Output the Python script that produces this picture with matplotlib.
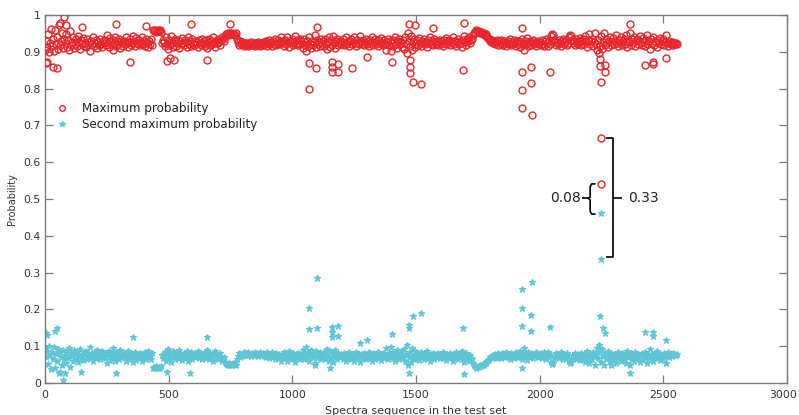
import numpy as np
import matplotlib
matplotlib.use("Agg")
import matplotlib.pyplot as plt
import matplotlib.transforms as mtransforms

# ---- data ----
band_step = 4  # sequence spacing of the band samples
red_band = [
905,930,912,948,899,925,962,915,934,901,958,921,940,907,972,918,929,952,911,936,
924,947,913,931,905,956,919,927,940,909,922,935,917,944,926,908,931,921,938,915,
923,912,934,918,926,903,929,920,941,915,924,932,910,927,919,936,922,913,930,925,
933,918,945,924,912,938,927,919,905,931,923,940,915,928,921,936,911,929,924,917,
930,922,940,927,914,926,935,919,924,944,929,916,938,925,921,933,918,927,940,922,
929,917,935,924,913,928,921,936,918,958,956,959,955,957,960,956,958,954,924,931,
927,915,939,922,907,931,918,942,925,912,929,936,917,924,933,911,928,920,938,923,
919,932,926,913,940,922,929,916,935,924,918,930,921,927,914,933,925,919,936,923,
928,916,931,922,909,926,934,918,929,921,939,925,914,930,923,936,927,919,932,941,
935,928,944,947,949,951,946,950,948,952,947,949,945,950,934,926,919,930,922,927,
921,917,925,919,923,916,922,920,926,918,921,924,917,923,919,927,920,916,922,925,
919,926,921,930,917,924,933,920,927,915,929,922,936,918,925,931,920,927,939,923,
928,917,932,921,940,926,914,930,923,936,919,927,942,922,931,918,925,934,920,929,
924,911,935,919,903,928,916,941,922,909,930,918,926,945,913,932,921,927,915,934,
923,929,917,935,921,908,926,940,913,931,919,944,924,911,928,936,918,925,930,921,
927,934,919,925,941,922,930,916,928,935,920,926,939,923,917,931,925,920,943,928,
922,933,918,927,936,921,929,917,932,924,940,919,926,934,921,928,915,931,923,937,
925,918,931,922,905,927,935,919,928,903,924,932,917,926,940,921,911,929,935,920,
927,914,933,908,941,922,896,952,930,915,943,905,927,936,912,925,931,919,938,924,
917,929,923,936,920,927,914,932,925,940,921,928,918,934,926,922,930,919,927,933,
922,928,916,931,924,937,920,926,933,918,929,925,941,922,930,917,927,935,921,929,
924,913,931,942,926,919,934,928,940,923,931,936,945,950,955,958,957,954,956,952,
953,950,948,951,946,944,947,941,938,935,930,927,933,924,929,921,926,931,919,928,
925,932,918,927,922,930,916,924,929,921,935,918,926,920,931,924,917,928,922,930,
912,925,935,919,904,928,921,937,916,924,929,918,926,933,920,927,915,924,930,921,
926,918,932,922,915,929,936,924,917,930,921,942,948,945,933,926,919,927,922,931,
924,917,928,935,920,926,931,918,925,940,946,944,933,923,928,919,934,926,921,930,
925,938,918,929,934,921,943,926,912,931,947,920,928,936,915,927,951,922,906,933,
896,915,944,908,927,950,919,935,924,912,930,941,918,926,937,920,929,945,923,916,
932,925,940,918,928,935,921,946,913,930,926,952,919,934,927,940,917,929,936,922,
930,944,924,918,937,927,915,932,946,921,928,908,935,924,941,919,930,926,912,933,
925,938,920,929,934,919,927,946,923,915,930,924,920,926,922,918,925,921,923,920,
]
cyan_band = [
95,70,88,52,101,75,38,85,66,99,42,79,60,93,28,82,71,48,89,64,
76,53,87,69,95,44,81,73,60,91,78,65,83,56,74,92,69,79,62,85,
77,88,66,82,74,97,71,80,59,85,76,68,90,73,81,64,78,87,70,75,
67,82,55,76,88,62,73,81,95,69,77,60,85,72,79,64,89,71,76,83,
70,78,60,73,86,74,65,81,76,56,71,84,62,75,79,67,82,73,60,78,
71,83,65,76,87,72,79,64,82,42,44,41,45,43,40,44,42,46,76,69,
73,85,61,78,93,69,82,58,75,88,71,64,83,76,67,89,72,80,62,77,
81,68,74,87,60,78,71,84,65,76,82,70,79,73,86,67,75,81,64,77,
72,84,69,78,91,74,66,82,71,79,61,75,86,70,77,64,73,81,68,59,
65,72,56,53,51,49,54,50,52,48,53,51,55,50,66,74,81,70,78,73,
79,83,75,81,77,84,78,80,74,82,79,76,83,77,81,73,80,84,78,75,
81,74,79,70,83,76,67,80,73,85,71,78,64,82,75,69,80,73,61,77,
72,83,68,79,60,74,86,70,77,64,81,73,58,78,69,82,75,66,80,71,
76,89,65,81,97,72,84,59,78,91,70,82,74,55,87,68,79,73,85,66,
77,71,83,65,79,92,74,60,87,69,81,56,76,89,72,64,82,75,70,79,
73,66,81,75,59,78,70,84,72,65,80,74,61,77,83,69,75,80,57,72,
78,67,82,73,64,79,71,83,68,76,60,81,74,66,79,72,85,69,77,63,
75,82,69,78,95,73,65,81,72,97,76,68,83,74,60,79,89,71,65,80,
73,86,67,92,59,78,104,48,70,85,57,95,73,64,88,75,69,81,62,76,
83,71,77,64,80,73,86,68,75,60,79,72,82,66,74,78,70,81,73,67,
78,72,84,69,76,63,80,74,67,82,71,75,59,78,70,83,73,65,79,71,
76,87,69,58,74,81,66,72,60,77,69,64,55,50,45,42,43,46,44,48,
47,50,52,49,54,56,53,59,62,65,70,73,67,76,71,79,74,69,81,72,
75,68,82,73,78,70,84,76,71,79,65,82,74,80,69,76,83,72,78,70,
88,75,65,81,96,72,79,63,84,76,71,82,74,67,80,73,85,76,70,79,
74,82,68,78,85,71,64,76,83,70,79,58,52,55,67,74,81,73,78,69,
76,83,72,65,80,74,69,82,75,60,54,56,67,77,72,81,66,74,79,70,
75,62,82,71,66,79,57,74,88,69,53,80,72,64,85,73,49,78,94,67,
104,85,56,92,73,50,81,65,76,88,70,59,82,74,63,80,71,55,77,84,
68,75,60,82,72,65,79,54,87,70,74,48,81,66,73,60,83,71,64,78,
70,56,76,82,63,73,85,68,54,79,72,92,65,76,59,81,70,74,88,67,
75,62,80,71,66,81,73,54,77,85,70,76,80,74,78,82,75,79,77,80,
]
red_out_x = [4, 8, 33, 49, 61, 77, 85, 150, 287, 344, 408, 495, 505, 520, 590, 655,
             748, 1068, 1068, 1096, 1100, 1160, 1160, 1160, 1185, 1185, 1241, 1300,
             1403, 1472, 1474, 1475, 1476, 1488, 1496, 1520, 1569, 1690, 1694, 1929,
             1929, 1929, 1929, 1965, 1965, 1969, 2042, 2244, 2244, 2248, 2248, 2248,
             2265, 2265, 2366, 2426, 2458, 2458, 2511]
red_out_y = [0.869, 0.871, 0.860, 0.856, 0.978, 0.995, 0.973, 0.967, 0.975, 0.873,
             0.970, 0.875, 0.883, 0.878, 0.975, 0.878, 0.975, 0.869, 0.799, 0.856,
             0.967, 0.872, 0.859, 0.845, 0.866, 0.845, 0.856, 0.886, 0.872, 0.975,
             0.878, 0.859, 0.842, 0.818, 0.973, 0.812, 0.965, 0.851, 0.978, 0.965,
             0.845, 0.796, 0.747, 0.859, 0.815, 0.728, 0.845, 0.862, 0.880, 0.818,
             0.666, 0.541, 0.865, 0.845, 0.975, 0.864, 0.866, 0.872, 0.883]
cyan_out_x = [4, 8, 49, 40, 60, 73, 81, 146, 287, 356, 493, 586, 655, 1068, 1068,
              1100, 1100, 1090, 1152, 1160, 1160, 1160, 1185, 1185, 1274, 1302, 1403,
              1472, 1472, 1472, 1488, 1520, 1690, 1694, 1929, 1929, 1929, 1929, 1965,
              1965, 1969, 2042, 2244, 2248, 2248, 2258, 2265, 2288, 2366, 2426, 2458,
              2458, 2511]
cyan_out_y = [0.135, 0.130, 0.149, 0.140, 0.030, 0.008, 0.027, 0.030, 0.027, 0.125,
              0.030, 0.027, 0.125, 0.204, 0.146, 0.285, 0.150, 0.050, 0.040, 0.152,
              0.139, 0.125, 0.154, 0.128, 0.110, 0.117, 0.133, 0.027, 0.158, 0.150,
              0.182, 0.190, 0.149, 0.024, 0.255, 0.204, 0.155, 0.040, 0.185, 0.141,
              0.274, 0.152, 0.182, 0.462, 0.337, 0.150, 0.135, 0.050, 0.027, 0.139,
              0.138, 0.128, 0.117]
x_ticks = [0, 500, 1000, 1500, 2000, 2500, 3000]
y_ticks = [0, 0.1, 0.2, 0.3, 0.4, 0.5, 0.6, 0.7, 0.8, 0.9, 1]
y_ticklabels = ["0", "0.1", "0.2", "0.3", "0.4", "0.5", "0.6", "0.7", "0.8", "0.9", "1"]
gap_small, gap_big = "0.08", "0.33"
ann_x = 2248
ann_small = (0.541, 0.462)
ann_big = (0.666, 0.337)

# ---- assemble series ----
band_x = 1 + band_step * np.arange(len(red_band))
red_x = np.concatenate([band_x, red_out_x])
red_y = np.concatenate([np.array(red_band) / 1000.0, red_out_y])
cyan_x = np.concatenate([band_x, cyan_out_x])
cyan_y = np.concatenate([np.array(cyan_band) / 1000.0, cyan_out_y])

RED = "#e8262b"
CYAN = "#5ec5d8"
GREY = "#7a7a7a"
TXT = "#333333"

fig = plt.figure(figsize=(7.99, 4.15), dpi=100)
ax = fig.add_axes([0.0563, 0.0771, 0.9287, 0.8868])

ax.plot(red_x, red_y, linestyle="none", marker="o", markersize=5.0,
        markerfacecolor="none", markeredgecolor=RED, markeredgewidth=1.0,
        label="Maximum probability", zorder=3)
ax.plot(cyan_x, cyan_y, linestyle="none", marker="*", markersize=5.0,
        color=CYAN, markeredgewidth=0.9, label="Second maximum probability", zorder=2)

ax.set_xlim(0, 3000)
ax.set_ylim(0, 1)
ax.set_xticks(x_ticks)
ax.set_yticks(y_ticks)
ax.set_yticklabels(y_ticklabels)
ax.tick_params(direction="in", length=6, width=0.9, color=GREY, labelsize=7.8,
               labelcolor=TXT, top=True, right=True)
ax.tick_params(axis="x", pad=5)
ax.tick_params(axis="y", pad=3)
for s in ax.spines.values():
    s.set_color(GREY)
    s.set_linewidth(1.0)

# keep the last x tick label inside the figure
fig.canvas.draw()
last = ax.get_xticklabels()[-1]
last.set_transform(last.get_transform() +
                   mtransforms.ScaledTranslation(-3 / 72, 0, fig.dpi_scale_trans))

ax.set_ylabel("Probability", fontsize=7, color=TXT, labelpad=5)
ax.set_xlabel("Spectra sequence in the test set", fontsize=8, color=TXT, labelpad=4.5)

leg = ax.legend(loc="upper left", bbox_to_anchor=(0.0, 0.785), frameon=False,
                fontsize=8.6, handletextpad=0.9, labelspacing=0.25, markerscale=0.8,
                handlelength=1.5, borderaxespad=0.3)
for t in leg.get_texts():
    t.set_color("#222222")

# ---- brackets ----
k = dict(color="black", lw=1.2, solid_capstyle="butt", zorder=4)
bx = ann_x + 49
ax.plot([bx - 29, bx, bx, bx - 29], [ann_big[0], ann_big[0], ann_big[1] + 0.005, ann_big[1] + 0.005], **k)
mid_big = (ann_big[0] + ann_big[1]) / 2
ax.plot([bx, bx + 36], [mid_big, mid_big], **k)
ax.text(bx + 60, mid_big, gap_big, fontsize=10, ha="left", va="center", color="#222222")

sx = ann_x - 44
top_s, bot_s = ann_small[0], ann_small[1] - 0.003
mid_s = (ann_small[0] + ann_small[1]) / 2
ax.plot([sx + 22, sx + 6, sx, sx, sx - 7, sx, sx, sx + 6, sx + 22],
        [top_s, top_s, top_s - 0.008, mid_s + 0.004, mid_s, mid_s - 0.004,
         bot_s + 0.008, bot_s, bot_s], **k)
ax.plot([sx - 32, sx - 7], [mid_s, mid_s], **k)
ax.text(sx - 36, mid_s, gap_small, fontsize=10, ha="right", va="center", color="#222222")

fig.savefig("out.png", dpi=100)
